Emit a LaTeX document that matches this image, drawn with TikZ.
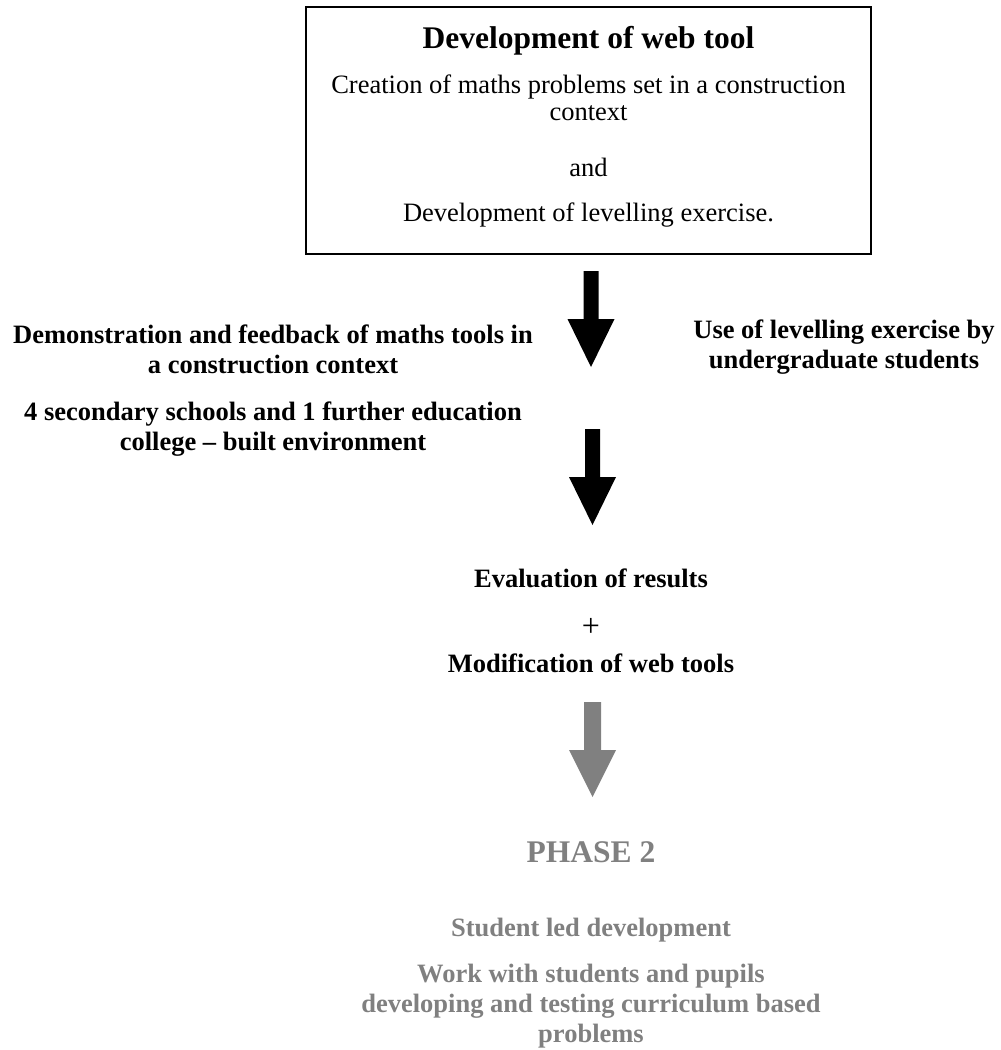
\documentclass[tikz,border=0pt]{standalone}
\usepackage{fontspec}
\setmainfont{Liberation Serif}
\definecolor{phasegray}{RGB}{128,128,128}
\tikzset{
  every node/.style={inner sep=0pt, outer sep=0pt, align=center},
  titletext/.style={font=\bfseries\fontsize{31.5}{36}\selectfont, anchor=base},
  bodytext/.style={font=\fontsize{26.5}{27}\selectfont, anchor=base},
  boldtext/.style={font=\bfseries\fontsize{26.5}{30}\selectfont, anchor=base},
  phasetext/.style={text=phasegray},
  framebox/.style={draw, line width=1.5pt, minimum width=565pt, minimum height=247pt},
  blockarrow/.pic={\fill (-7.5,0) -- (7.5,0) -- (7.5,48) -- (23.5,48) -- (0,96) -- (-23.5,48) -- (-7.5,48) -- cycle;},
  grayarrow/.pic={\fill (-8.5,0) -- (8.5,0) -- (8.5,48) -- (23.5,48) -- (0,95) -- (-23.5,48) -- (-8.5,48) -- cycle;}
}
\begin{document}
\begin{tikzpicture}[x=1pt,y=-1pt]
\useasboundingbox (0,0) rectangle (1001,1050);
% top box
\node[framebox] (box) at (588.5,130.5) {};
\node[titletext] (title) at (588.5,48) {Development of web tool};
\node[bodytext] (creation) at (588.5,120) {Creation of maths problems set in a construction\\context};
\node[bodytext] (and) at (588.5,176) {and};
\node[bodytext] (level) at (588.5,221) {Development of levelling exercise.};
% arrows
\pic[color=black] (arrA) at (591,271) {blockarrow};
\pic[color=black] (arrB) at (592.5,429) {blockarrow};
% side texts
\node[boldtext] (demo) at (273,373) {Demonstration and feedback of maths tools in\\a construction context};
\node[boldtext] (schools) at (273,450) {4 secondary schools and 1 further education\\college -- built environment};
\node[boldtext] (use) at (844,368) {Use of levelling exercise by\\undergraduate students};
% evaluation
\node[boldtext] (eval) at (591,587) {Evaluation of results};
\node[bodytext, font=\fontsize{32}{34}\selectfont] (plus) at (591,636) {+};
\node[boldtext] (modif) at (591,672) {Modification of web tools};
% phase 2
\pic[color=phasegray] (arrC) at (592.5,702) {grayarrow};
\node[titletext, phasetext] (phase) at (591,862) {PHASE 2};
\node[boldtext, phasetext] (student) at (591,936) {Student led development};
\node[boldtext, phasetext] (work) at (591,1042) {Work with students and pupils\\developing and testing curriculum based\\problems};
\end{tikzpicture}
\end{document}
